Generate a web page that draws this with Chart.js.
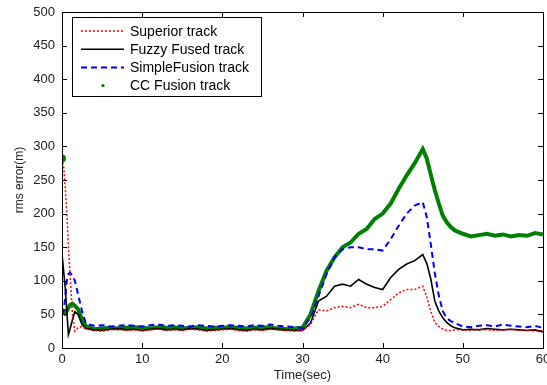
<!DOCTYPE html>
<html>
<head>
<meta charset="utf-8">
<script src="https://cdn.jsdelivr.net/npm/chart.js@4/dist/chart.umd.min.js"></script>
<style>
  html, body { margin: 0; padding: 0; background: #fff; }
  #wrap { width: 547px; height: 385px; }
</style>
</head>
<body>
<div id="wrap"><canvas id="rmsChart" width="547" height="385"></canvas></div>
<script>
// time samples (sec)
const times = [
    0, 0.2, 0.4, 0.6, 0.8, 1.0, 1.3, 1.6, 2.0, 2.5, 3,
    4, 5, 6, 7, 8, 9, 10, 11, 12, 13, 14, 15, 16, 17, 18, 19, 20, 21, 22, 23, 24, 25, 26, 27, 28, 29, 30,
    31, 32, 33, 34, 35, 36, 37, 38, 39, 40, 41, 42, 43, 44, 45,
    45.5, 46, 46.5, 47, 47.5, 48, 48.5, 49,
    50, 51, 52, 53, 54, 55, 56, 57, 58, 59, 60
];

const superiorTrack = [
    282, 270, 240, 200, 150, 110, 50, 25, 30, 32, 28,
    26, 25, 27, 28, 26, 27, 25, 27, 28, 26, 27, 26, 28, 27, 25, 26, 27, 28, 26, 25, 27, 26, 28, 27, 26, 25, 26,
    35, 57, 55, 60, 62, 60, 65, 60, 60, 62, 72, 82, 87, 87, 92,
    76, 55, 38, 32, 28, 26, 26, 27,
    27, 26, 28, 27, 26, 27, 28, 26, 27, 25, 26
];

const fuzzyTrack = [
    140, 115, 90, 55, 20, 28, 42, 54, 50, 35, 29,
    27, 26, 28, 29, 27, 28, 26, 28, 29, 27, 28, 27, 29, 28, 26, 27, 28, 29, 27, 26, 28, 27, 29, 28, 27, 26, 26,
    37, 70, 77, 92, 95, 92, 102, 95, 90, 87, 105, 117, 125, 130, 139,
    126, 103, 70, 55, 45, 38, 33, 30,
    27, 28, 27, 29, 28, 27, 28, 27, 26, 27, 24
];

const simpleTrack = [
    50, 55, 75, 100, 110, 112, 108, 100, 80, 55, 36,
    33, 34, 32, 33, 34, 33, 32, 34, 35, 33, 34, 33, 32, 34, 33, 32, 33, 34, 33, 32, 34, 33, 35, 33, 32, 31, 30,
    45, 77, 110, 135, 147, 150, 150, 147, 147, 145, 162, 182, 200, 212, 217,
    195, 155, 112, 78, 55, 44, 40, 37,
    32, 31, 33, 34, 32, 35, 33, 32, 31, 33, 30
];

const ccTrack = [
    282, 57, 52, 55, 60, 64, 66, 63, 58, 42, 32,
    28, 29, 30, 29, 30, 31, 30, 29, 31, 30, 31, 29, 30, 31, 29, 30, 30, 31, 30, 29, 30, 31, 30, 29, 28, 29, 30,
    50, 85, 115, 135, 150, 157, 170, 177, 192, 200, 215, 237, 257, 275, 296,
    282, 258, 235, 215, 197, 187, 180, 175,
    170, 166, 168, 170, 167, 169, 166, 168, 167, 171, 169
];

const xTicks = [0, 10, 20, 30, 40, 50, 60];
const yTicks = [0, 50, 100, 150, 200, 250, 300, 350, 400, 450, 500];

const fontFamily = '"Liberation Sans", Arial, sans-serif';

function toPoints(values) {
    return values.map((v, i) => ({ x: times[i], y: v }));
}

// MATLAB-like box with inward ticks plus the boxed legend
const axesBoxPlugin = {
    id: 'axesBox',
    afterDraw(chart) {
        const { ctx, chartArea: a, scales: { x, y } } = chart;
        const tick = 5;
        ctx.save();
        ctx.strokeStyle = '#000';
        ctx.lineWidth = 1;
        ctx.beginPath();
        ctx.rect(Math.round(a.left) + 0.5, Math.round(a.top) + 0.5,
                 Math.round(a.right - a.left), Math.round(a.bottom - a.top));
        ctx.stroke();

        ctx.beginPath();
        xTicks.forEach(t => {
            const px = Math.round(x.getPixelForValue(t)) + 0.5;
            ctx.moveTo(px, a.bottom); ctx.lineTo(px, a.bottom - tick);
            ctx.moveTo(px, a.top); ctx.lineTo(px, a.top + tick);
        });
        yTicks.forEach(t => {
            const py = Math.round(y.getPixelForValue(t)) + 0.5;
            ctx.moveTo(a.left, py); ctx.lineTo(a.left + tick, py);
            ctx.moveTo(a.right, py); ctx.lineTo(a.right - tick, py);
        });
        ctx.stroke();

        // legend
        const lx = 72.5, ly = 17.5, lw = 189, lh = 79;
        ctx.fillStyle = '#fff';
        ctx.fillRect(lx, ly, lw, lh);
        ctx.strokeRect(lx, ly, lw, lh);
        ctx.font = '14px ' + fontFamily;
        ctx.textBaseline = 'middle';
        chart.data.datasets.forEach((ds, i) => {
            const cy = 31 + i * 18.2;
            ctx.save();
            if (ds.legendDot) {
                ctx.fillStyle = ds.borderColor;
                ctx.beginPath();
                ctx.arc(103, cy, 1.6, 0, Math.PI * 2);
                ctx.fill();
            } else {
                ctx.strokeStyle = ds.borderColor;
                ctx.lineWidth = ds.borderWidth;
                ctx.setLineDash(ds.borderDash || []);
                ctx.beginPath();
                ctx.moveTo(81, cy);
                ctx.lineTo(124, cy);
                ctx.stroke();
            }
            ctx.restore();
            ctx.fillStyle = '#000';
            ctx.fillText(ds.label, 130, cy + 1);
        });
        ctx.restore();
    }
};

new Chart(document.getElementById('rmsChart'), {
    type: 'line',
    data: {
        datasets: [
            {
                label: 'Superior track',
                data: toPoints(superiorTrack),
                borderColor: '#ff0000',
                borderWidth: 1.5,
                borderDash: [2, 2]
            },
            {
                label: 'Fuzzy Fused track',
                data: toPoints(fuzzyTrack),
                borderColor: '#000000',
                borderWidth: 1.6
            },
            {
                label: 'SimpleFusion track',
                data: toPoints(simpleTrack),
                borderColor: '#0000ff',
                borderWidth: 2,
                borderDash: [6, 4]
            },
            {
                label: 'CC Fusion track',
                data: toPoints(ccTrack),
                borderColor: '#008000',
                backgroundColor: '#008000',
                borderWidth: 4,
                legendDot: true,
                pointRadius: ctx => ctx.dataIndex === 0 ? 2 : 0,
                segment: {
                    borderColor: ctx => ctx.p0DataIndex === 0 ? 'rgba(0,0,0,0)' : undefined
                }
            }
        ]
    },
    options: {
        responsive: false,
        animation: false,
        events: [],
        layout: { autoPadding: false, padding: { top: 12, right: 4, left: 0, bottom: 0 } },
        elements: {
            line: { tension: 0, fill: false },
            point: { radius: 0 }
        },
        plugins: {
            legend: { display: false },
            tooltip: { enabled: false }
        },
        scales: {
            x: {
                type: 'linear',
                min: 0,
                max: 60,
                afterFit: s => { s.height = 37; s.paddingLeft = 0; s.paddingRight = 0; },
                afterBuildTicks: s => { s.ticks = xTicks.map(v => ({ value: v })); },
                grid: { display: false, drawTicks: false },
                border: { display: false },
                ticks: {
                    padding: 4,
                    color: '#222',
                    font: { family: fontFamily, size: 13 }
                },
                title: {
                    display: true,
                    text: 'Time(sec)',
                    color: '#222',
                    padding: { top: 0, bottom: 2 },
                    font: { family: fontFamily, size: 13 }
                }
            },
            y: {
                type: 'linear',
                min: 0,
                max: 500,
                afterFit: s => { s.width = 62; s.paddingTop = 0; s.paddingBottom = 0; },
                afterBuildTicks: s => { s.ticks = yTicks.map(v => ({ value: v })); },
                grid: { display: false, drawTicks: false },
                border: { display: false },
                ticks: {
                    padding: 7,
                    color: '#222',
                    font: { family: fontFamily, size: 13 }
                },
                title: {
                    display: true,
                    text: 'rms error(m)',
                    color: '#222',
                    padding: { top: 12, bottom: 0 },
                    font: { family: fontFamily, size: 12 }
                }
            }
        }
    },
    plugins: [axesBoxPlugin]
});
</script>
</body>
</html>
